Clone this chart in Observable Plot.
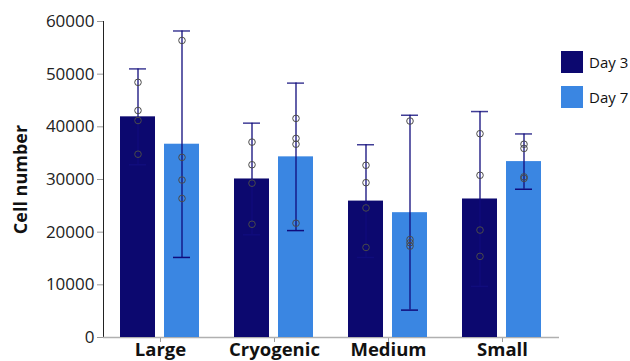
<!DOCTYPE html>
<html>
<head>
<meta charset="utf-8">
<script src="https://cdn.jsdelivr.net/npm/d3@7"></script>
<script src="https://cdn.jsdelivr.net/npm/@observablehq/plot@0.6"></script>
<style>
  html, body { margin: 0; padding: 0; background: #fff; overflow: hidden; }
  #wrap { position: relative; width: 630px; height: 361px; font-family: "Open Sans", sans-serif; }
  #wrap svg { font-family: "Open Sans", sans-serif; font-size: 17px; color: #222; }
  #wrap svg g[aria-label="y-axis tick"] path,
  #wrap svg g[aria-label="fx-axis tick"] path { stroke: #9a9a9a; }
  #wrap svg g[aria-label="y-axis line"] line,
  #wrap svg g[aria-label="y-axis line"] path { stroke: #b0b0b0; stroke-width: 1.5; }
  #wrap svg g[aria-label="fx-axis tick label"] text { font-weight: bold; font-size: 18.5px; fill: #111; }
  #wrap svg g[aria-label="y-axis label"] text { font-weight: bold; font-size: 18px; fill: #111; }
  .legend { position: absolute; left: 561px; font-size: 15px; color: #111; display: flex; align-items: center; }
  .legend span.sw { display: inline-block; width: 22px; height: 22px; margin-right: 6px; }
</style>
</head>
<body>
<div id="wrap"></div>
<script>
const categories = ["Large", "Cryogenic", "Medium", "Small"];
const days = ["Day 3", "Day 7"];
const meansDay3 = [41900, 30100, 25900, 26300];
const meansDay7 = [36700, 34300, 23700, 33400];
const errDay3 = [9100, 10600, 10700, 16600];
const errDay7 = [21500, 14000, 18500, 5250];
const pointsDay3 = [
  [48450, 43100, 41200, 34800],
  [37100, 32800, 29300, 21500],
  [32700, 29400, 24600, 17100],
  [38700, 30800, 20400, 15400]
];
const pointsDay7 = [
  [56400, 34200, 29900, 26400],
  [41600, 37800, 36700, 21700],
  [41100, 18600, 18000, 17350],
  [36700, 35900, 30500, 30200]
];
const yTicks = [0, 10000, 20000, 30000, 40000, 50000, 60000];
const dayColors = ["#0c086f", "#3a86e2"];
const errColor = "#100c7c";

const means = [meansDay3, meansDay7];
const errs = [errDay3, errDay7];
const pts = [pointsDay3, pointsDay7];

const summary = categories.flatMap((c, i) => days.map((d, j) => ({
  category: c, day: d, mean: means[j][i], err: errs[j][i]
})));
const points = categories.flatMap((c, i) => days.flatMap((d, j) =>
  pts[j][i].map(v => ({category: c, day: d, value: v}))));

const chart = Plot.plot({
  width: 630,
  height: 372,
  marginLeft: 102,
  marginRight: 70,
  marginTop: 21,
  marginBottom: 35,
  fx: {domain: categories, padding: 0, label: null, axis: "bottom", tickSize: 5, tickPadding: 0},
  x: {domain: days, axis: null, paddingInner: 0.2, paddingOuter: 0.39},
  y: {domain: [0, 60000], ticks: yTicks, tickFormat: "d", tickSize: 6, tickPadding: 3,
      label: "Cell number", labelAnchor: "center", labelOffset: 89, labelArrow: "none", line: true},
  color: {domain: days, range: dayColors},
  marks: [
    Plot.ruleY([0], {stroke: "#b0b0b0", strokeWidth: 1.5}),
    Plot.barY(summary, {fx: "category", x: "day", y: "mean", fill: "day"}),
    Plot.ruleX(summary, {fx: "category", x: "day", y1: d => d.mean - d.err, y2: d => d.mean + d.err,
      stroke: errColor, strokeWidth: 1.3}),
    Plot.tickY(summary, {fx: "category", x: "day", y: d => d.mean + d.err, insetLeft: 9, insetRight: 9,
      stroke: errColor, strokeOpacity: 0.8, strokeWidth: 1.5}),
    Plot.tickY(summary, {fx: "category", x: "day", y: d => d.mean - d.err, insetLeft: 9, insetRight: 9,
      stroke: errColor, strokeWidth: 1.5}),
    Plot.dot(points, {fx: "category", x: "day", y: "value", r: 3.3, stroke: "#4a4a4a", strokeWidth: 1, fill: "none"})
  ]
});
const wrap = document.getElementById("wrap");
wrap.appendChild(chart);

days.forEach((d, j) => {
  const item = document.createElement("div");
  item.className = "legend";
  item.style.top = (51 + j * 35) + "px";
  const sw = document.createElement("span");
  sw.className = "sw";
  sw.style.background = dayColors[j];
  const label = document.createElement("span");
  label.textContent = d;
  item.appendChild(sw);
  item.appendChild(label);
  wrap.appendChild(item);
});
</script>
</body>
</html>
